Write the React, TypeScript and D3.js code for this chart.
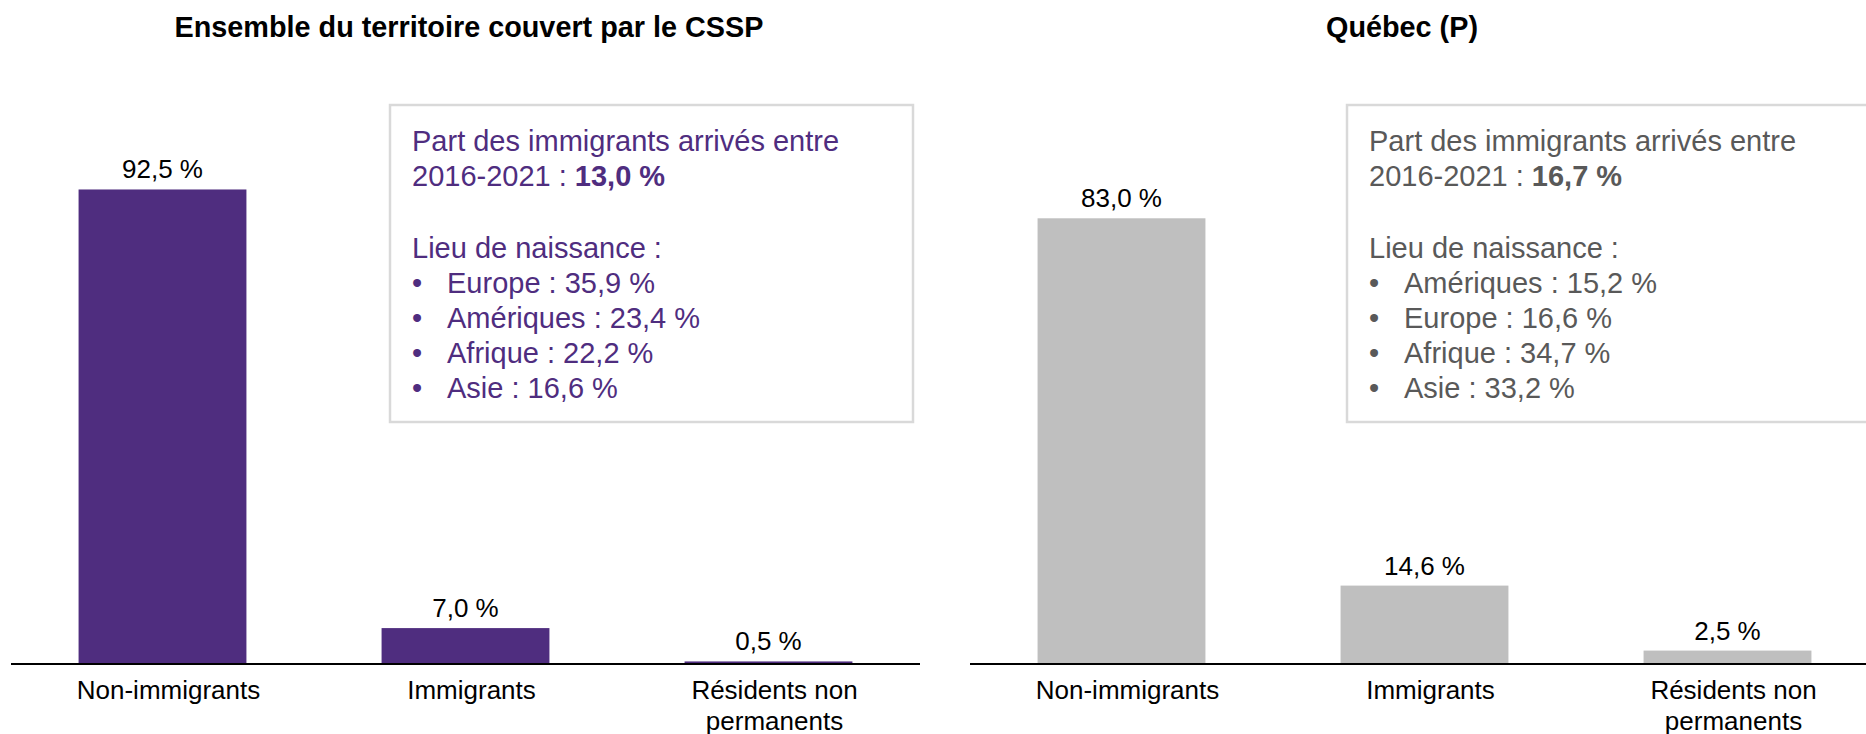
import React from "react";
import * as d3 from "d3";

const categories = ["Non-immigrants", "Immigrants", "Résidents non permanents"];
const categoryLines = [["Non-immigrants"], ["Immigrants"], ["Résidents non", "permanents"]];
const csspValues = [92.5, 7.0, 0.5];
const quebecValues = [83.0, 14.6, 2.5];
const csspRecent = 13.0;
const quebecRecent = 16.7;
const csspBirthPlaces = ["Europe", "Amériques", "Afrique", "Asie"];
const csspBirthValues = [35.9, 23.4, 22.2, 16.6];
const quebecBirthPlaces = ["Amériques", "Europe", "Afrique", "Asie"];
const quebecBirthValues = [15.2, 16.6, 34.7, 33.2];

const FONT = "'Liberation Sans', Arial, Helvetica, sans-serif";
const fmt = (v: number) => v.toFixed(1).replace(".", ",") + " %";

type PanelProps = {
  title: string;
  titleX: number;
  values: number[];
  x0: number;
  x1: number;
  axisEnd: number;
  yTop: number;
  barColor: string;
  textColor: string;
  boxX: number;
  recent: number;
  places: string[];
  placeValues: number[];
};

function Panel(p: PanelProps) {
  const baseY = 664;
  const x = d3.scaleBand<string>().domain(categories).range([p.x0, p.x1]).paddingInner(0.446).paddingOuter(0.223);
  const y = d3.scaleLinear().domain([0, 100]).range([baseY, p.yTop]);
  const boxY = 105;
  const boxW = 523;
  const boxH = 317;
  const tx = p.boxX + 22;
  const lh = 35;
  const b0 = 151;
  const b1 = 258;
  return (
    <g>
      <text x={p.titleX} y={37} textAnchor="middle" fontFamily={FONT} fontWeight="bold" fontSize={28.8} fill="#000">
        {p.title}
      </text>
      {p.values.map((v, i) => (
        <rect key={i} x={x(categories[i])!} y={y(v)} width={x.bandwidth()} height={baseY - y(v)} fill={p.barColor} />
      ))}
      {p.values.map((v, i) => (
        <text key={"v" + i} x={x(categories[i])! + x.bandwidth() / 2} y={y(v) - 11} textAnchor="middle" fontFamily={FONT} fontSize={26} fill="#000">
          {fmt(v)}
        </text>
      ))}
      <line x1={p.x0} x2={p.axisEnd} y1={baseY} y2={baseY} stroke="#000" strokeWidth={2.2} />
      {categoryLines.map((lines, i) => (
        <text key={"c" + i} x={x(categories[i])! + x.bandwidth() / 2 + 6} y={699} textAnchor="middle" fontFamily={FONT} fontSize={26} fill="#000">
          {lines.map((l, j) => (
            <tspan key={j} x={x(categories[i])! + x.bandwidth() / 2 + 6} dy={j === 0 ? 0 : 31}>
              {l}
            </tspan>
          ))}
        </text>
      ))}
      <rect x={p.boxX} y={boxY} width={boxW} height={boxH} fill="#fff" stroke="#d9d9d9" strokeWidth={2.5} />
      <g fontFamily={FONT} fontSize={29} fill={p.textColor}>
        <text x={tx} y={b0}>Part des immigrants arrivés entre</text>
        <text x={tx} y={b0 + lh}>
          2016-2021 : <tspan fontWeight="bold">{fmt(p.recent)}</tspan>
        </text>
        <text x={tx} y={b1}>Lieu de naissance :</text>
        {p.places.map((pl, i) => (
          <g key={pl}>
            <text x={tx} y={b1 + lh * (1 + i)}>•</text>
            <text x={tx + 35} y={b1 + lh * (1 + i)}>
              {pl} : {fmt(p.placeValues[i])}
            </text>
          </g>
        ))}
      </g>
    </g>
  );
}

export default function App() {
  return (
    <svg width={1866} height={734} style={{ position: "absolute", left: 0, top: 0, background: "#fff" }}>
      <rect width={1866} height={734} fill="#fff" />
      <Panel
        title="Ensemble du territoire couvert par le CSSP"
        titleX={469}
        values={csspValues}
        x0={11}
        x1={920}
        axisEnd={920}
        yTop={664 - 513}
        barColor="#4f2d7f"
        textColor="#4f2d7f"
        boxX={390}
        recent={csspRecent}
        places={csspBirthPlaces}
        placeValues={csspBirthValues}
      />
      <Panel
        title="Québec (P)"
        titleX={1402}
        values={quebecValues}
        x0={970}
        x1={1879}
        axisEnd={1866}
        yTop={664 - 537}
        barColor="#bfbfbf"
        textColor="#595959"
        boxX={1347}
        recent={quebecRecent}
        places={quebecBirthPlaces}
        placeValues={quebecBirthValues}
      />
    </svg>
  );
}
